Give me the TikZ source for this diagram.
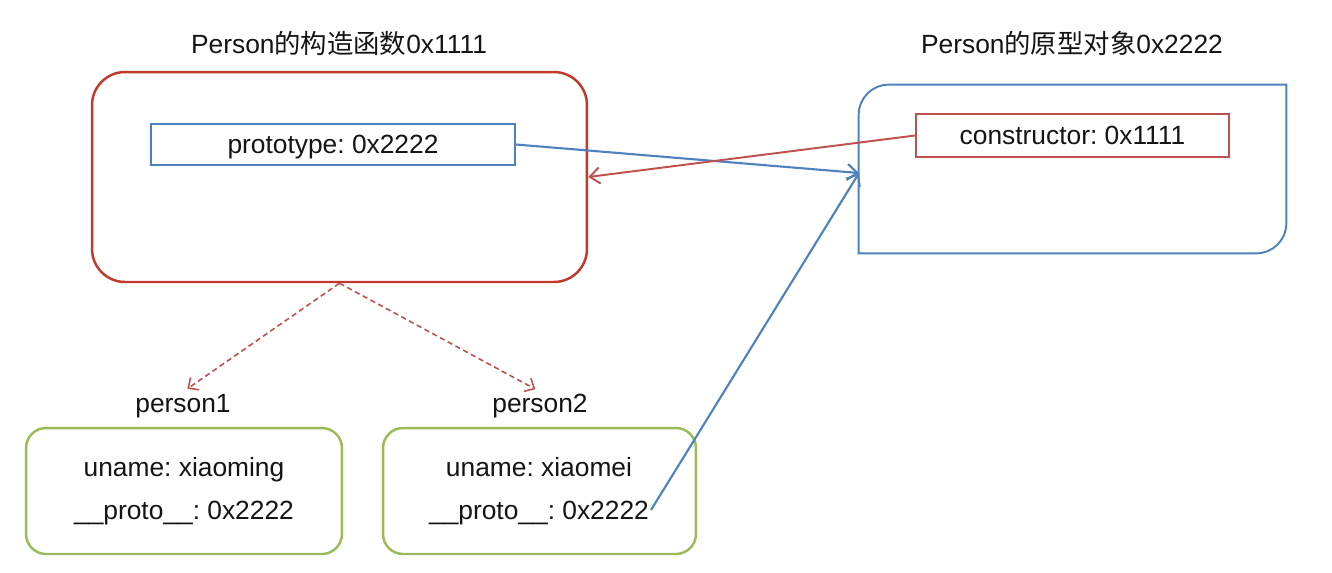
\documentclass[tikz,border=0pt]{standalone}
\usepackage{fontspec}
\setmainfont{Liberation Sans}
\newfontfamily\cjk{Noto Sans CJK SC}
\usetikzlibrary{arrows.meta}
\definecolor{ctorred}{RGB}{192,57,43}
\definecolor{fieldred}{RGB}{192,80,77}
\definecolor{protoblue}{RGB}{79,129,189}
\definecolor{instgreen}{RGB}{155,187,89}
\definecolor{textgray}{RGB}{20,20,20}
\tikzset{
	txt/.style={font=\fontsize{15pt}{18pt}\selectfont\frenchspacing, text=textgray, inner sep=1pt, text depth=0pt},
	field/.style={txt, draw, line width=1.1pt, inner sep=0pt},
	ctorbox/.style={draw=ctorred, line width=1.4pt, rounded corners=0.66cm},
	instbox/.style={draw=instgreen, line width=1.4pt, rounded corners=0.4cm},
	bluearrow/.style={draw=protoblue, line width=1.2pt, -{Straight Barb[length=2mm,width=3.2mm]}},
	redarrow/.style={draw=fieldred, line width=1.1pt, -{Straight Barb[length=2mm,width=3.2mm]}},
	dasharrow/.style={draw=fieldred, line width=0.9pt, dash pattern=on 3pt off 2pt, -{Straight Barb[length=1.6mm,width=3mm]}}
}
\begin{document}
\begin{tikzpicture}[x=0.02cm, y=-0.02cm]
			%%%%% START %%%%%
			\useasboundingbox (0,0) rectangle (1332,572);
			
			\node[txt] (ctortitle) at (339,42) {Person{\cjk 的构造函数}0x1111};
			\node[txt] (prototitle) at (1072,42) {Person{\cjk 的原型对象}0x2222};
			
			% constructor
			\node[ctorbox, minimum width=9.9cm, minimum height=4.2cm] (ctor) at (339.5,177) {};
			\node[field, draw=protoblue, minimum width=7.28cm, minimum height=0.82cm] (protofield) at (333,144.5) {prototype: 0x2222};
			
			% prototype object, two corners rounded
			\node[minimum width=8.54cm, minimum height=3.36cm, inner sep=0pt] (proto) at (1072.5,169) {};
			\draw[protoblue, line width=1.1pt] (proto.north east) -- ([yshift=0.6cm]proto.south east) arc[start angle=0, end angle=-90, radius=0.6cm] -- (proto.south west) -- ([yshift=-0.6cm]proto.north west) arc[start angle=180, end angle=90, radius=0.6cm] -- cycle;
			\node[field, draw=fieldred, minimum width=6.26cm, minimum height=0.86cm] (ctorfield) at (1072.5,135.5) {constructor: 0x1111};
			
			% instances
			\node[txt] (p1name) at (183,403) {person1};
			\node[txt] (p2name) at (540,403) {person2};
			\node[instbox, minimum width=6.32cm, minimum height=2.52cm] (p1) at (184,491) {};
			\node[instbox, minimum width=6.26cm, minimum height=2.52cm] (p2) at (539.5,491) {};
			\node[txt] (p1uname) at (184,467) {uname: xiaoming};
			\node[txt] (p1proto) at (184,510) {\_\_proto\_\_: 0x2222};
			\node[txt] (p2uname) at (539,467) {uname: xiaomei};
			\node[txt] (p2proto) at (539,510) {\_\_proto\_\_: 0x2222};
			
			% links
			\coordinate (hit) at (859,173);
			\draw[bluearrow] (protofield.east) -- (hit);
			\draw[bluearrow] (p2proto.east) -- (hit);
			\draw[redarrow] (ctorfield.west) -- (ctor.east);
			\draw[dasharrow, shorten >=3pt] (ctor.south) -- (p1name.north);
			\draw[dasharrow, shorten >=3pt] (ctor.south) -- (p2name.north);
			
			%%%%% END %%%%%
\end{tikzpicture}
\end{document}
